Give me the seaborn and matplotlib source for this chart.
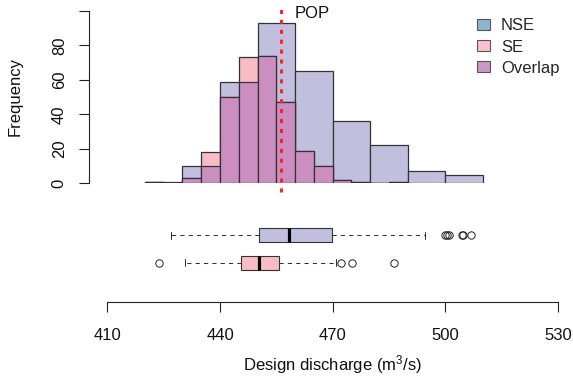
import numpy as np
import matplotlib
matplotlib.use("Agg")
import matplotlib.pyplot as plt
import seaborn as sns
from matplotlib.patches import Patch

sns.set_theme(style="white")
plt.rcParams["font.family"] = ["Liberation Sans", "DejaVu Sans"]
plt.rcParams["mathtext.fontset"] = "custom"
plt.rcParams["mathtext.rm"] = "Liberation Sans"
plt.rcParams["mathtext.it"] = "Liberation Sans:italic"
plt.rcParams["mathtext.default"] = "rm"

# ---- data -------------------------------------------------------------
# design discharge histograms (m3/s)
nse_edges = [420, 430, 440, 450, 460, 470, 480, 490, 500, 510]
nse_counts = [1, 10, 59, 93, 65, 36, 22, 7, 5]
se_edges = [420, 425, 430, 435, 440, 445, 450, 455, 460, 465, 470, 475, 480, 485, 490]
se_counts = [1, 0, 3, 18, 50, 73, 74, 47, 19, 10, 2, 1, 0, 1]

pop_value = 456.2

# box summaries: lower whisker, Q1, median, Q3, upper whisker
nse_box = [426.9, 450.5, 458.4, 469.9, 494.7]
nse_outliers = [499.8, 500.5, 501.1, 504.4, 504.6, 506.9]
se_box = [430.8, 445.5, 450.5, 455.7, 471.0]
se_outliers = [423.8, 472.2, 475.1, 486.4]

x_ticks = [410, 440, 470, 500, 530]
y_ticks = [0, 20, 40, 60, 80, 100]
y_tick_labels = ["0", "20", "40", "60", "80", ""]
legend_labels = ["NSE", "SE", "Overlap"]

# ---- style ------------------------------------------------------------
NSE_FILL = "#c2bfde"
SE_FILL = "#f8bcc4"
OVERLAP_FILL = "#cc8ec0"
LEGEND_FILLS = ["#8db5cf", "#f9c1cb", "#c897c8"]
EDGE = "#333333"
AXIS = "#222222"

W, H = 573, 382
fig = plt.figure(figsize=(W / 100, H / 100), dpi=100)


def fx(px):
    return px / W


def fy(py):
    return 1 - py / H


# horizontal mapping shared by histogram and boxplots
left_px, right_px = 89, 560
x410_px, px_per_unit = 107.4, 3.754
xlim = (410 + (left_px - x410_px) / px_per_unit, 410 + (right_px - x410_px) / px_per_unit)

# ---- histogram panel --------------------------------------------------
hist_bottom, hist_top = 183.3, 10.8
ax_h = fig.add_axes([fx(left_px), fy(hist_bottom), (right_px - left_px) / W,
                     (hist_bottom - hist_top) / H])


def mids(edges):
    e = np.asarray(edges, dtype=float)
    return (e[:-1] + e[1:]) / 2


se_mid = mids(se_edges)
nse_for_se = np.asarray(nse_counts)[np.searchsorted(nse_edges, se_mid) - 1]
overlap_counts = np.minimum(se_counts, nse_for_se)

bar_kw = dict(alpha=1, edgecolor=EDGE, linewidth=0.9, ax=ax_h, legend=False)
sns.histplot(x=mids(nse_edges), weights=nse_counts, bins=nse_edges, color=NSE_FILL, **bar_kw)
sns.histplot(x=se_mid, weights=se_counts, bins=se_edges, color=SE_FILL, **bar_kw)
sns.histplot(x=se_mid, weights=overlap_counts, bins=se_edges, color=OVERLAP_FILL, **bar_kw)

ax_h.set_xlim(*xlim)
ax_h.set_ylim(0, 100)
ax_h.set_xlabel("")
ax_h.set_ylabel("")
for s in ("top", "right", "bottom"):
    ax_h.spines[s].set_visible(False)
ax_h.spines["left"].set_bounds(0, 100)
ax_h.spines["left"].set_color(AXIS)
ax_h.spines["left"].set_linewidth(0.8)
ax_h.set_xticks([])
ax_h.set_yticks(y_ticks, labels=y_tick_labels)
ax_h.tick_params(axis="y", direction="out", length=7.2, width=0.8, color=AXIS,
                 pad=8.8, labelsize=12, labelcolor="#111111", left=True)
for lab in ax_h.get_yticklabels():
    lab.set_rotation(90)
    lab.set_va("center")
    lab.set_ha("right")

# population reference line
ax_h.plot([pop_value, pop_value], [-5, 104], color="#ff1f1f", lw=2.1,
          ls=(0, (1.4, 2.0)), clip_on=False, zorder=5)
fig.text(fx(294.5), fy(17.5), "POP", ha="left", va="baseline", fontsize=12, color="#111111")

# legend
handles = [Patch(facecolor=c, edgecolor="#555555", linewidth=0.8, label=l)
           for c, l in zip(LEGEND_FILLS, legend_labels)]
fig.legend(handles=handles, loc="upper left", bbox_to_anchor=(fx(477), fy(18.5)),
           frameon=False, fontsize=12, handlelength=0.78, handleheight=0.6,
           handletextpad=0.66, labelspacing=0.36, borderpad=0, borderaxespad=0)

# ---- boxplot panel ----------------------------------------------------
box_bottom, box_top = 302.3, 215
ax_b = fig.add_axes([fx(left_px), fy(box_bottom), (right_px - left_px) / W,
                     (box_bottom - box_top) / H])


def stats(box, outliers, label):
    lo, q1, med, q3, hi = box
    return dict(whislo=lo, q1=q1, med=med, q3=q3, whishi=hi, fliers=outliers, label=label)


bxp_stats = [stats(nse_box, nse_outliers, "NSE"), stats(se_box, se_outliers, "SE")]
positions = [box_bottom - 235.3, box_bottom - 262.5]
artists = ax_b.bxp(
    bxp_stats, positions=positions, widths=14, capwidths=7,
    orientation="horizontal", patch_artist=True, manage_ticks=False,
    boxprops=dict(edgecolor=EDGE, linewidth=0.8),
    whiskerprops=dict(color=EDGE, linewidth=0.75, linestyle=(0, (4, 4))),
    capprops=dict(color=EDGE, linewidth=0.75),
    medianprops=dict(color="black", linewidth=2.3, solid_capstyle="butt"),
    flierprops=dict(marker="o", markerfacecolor="none", markeredgecolor="#222222",
                    markersize=5.3, markeredgewidth=0.7),
)
for patch, c in zip(artists["boxes"], [NSE_FILL, SE_FILL]):
    patch.set_facecolor(c)

ax_b.set_xlim(*xlim)
ax_b.set_ylim(0, box_bottom - box_top)
for s in ("top", "right", "left"):
    ax_b.spines[s].set_visible(False)
ax_b.spines["bottom"].set_bounds(x_ticks[0], x_ticks[-1])
ax_b.spines["bottom"].set_color(AXIS)
ax_b.spines["bottom"].set_linewidth(0.8)
ax_b.set_yticks([])
ax_b.set_xticks(x_ticks, labels=[str(t) for t in x_ticks])
ax_b.tick_params(axis="x", direction="out", length=7.2, width=0.8, color=AXIS,
                 pad=11, labelsize=12, labelcolor="#111111", bottom=True)

# axis titles
fig.text(fx(332.7), fy(365), r"Design discharge (m$^3$/s)", ha="center", va="center",
         fontsize=12, color="#111111")
fig.text(fx(15), fy(96.8), "Frequency", rotation=90, ha="center", va="center",
         fontsize=12, color="#111111")

fig.savefig("out.png", dpi=100)
